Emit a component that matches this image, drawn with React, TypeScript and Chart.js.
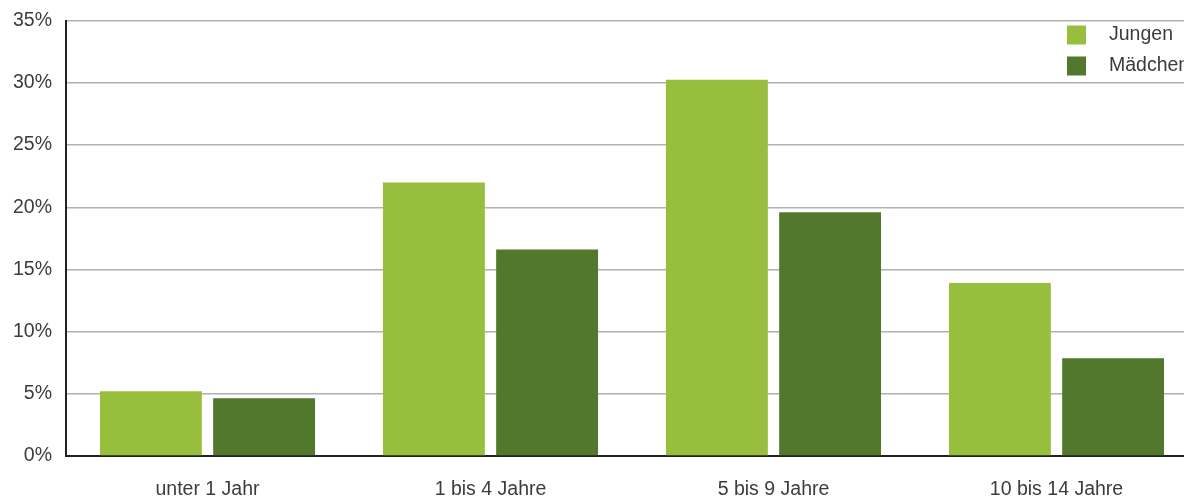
import React, { useEffect, useRef } from "react";
import { Chart, registerables } from "chart.js";

Chart.register(...registerables);

const categories = ["unter 1 Jahr", "1 bis 4 Jahre", "5 bis 9 Jahre", "10 bis 14 Jahre"];
const jungen = [5.2, 22.0, 30.25, 13.9];
const maedchen = [4.65, 16.6, 19.6, 7.85];
const seriesLabels = ["Jungen", "Mädchen"];
const yMax = 35;
const yStep = 5;

const FONT = "'Liberation Sans', Arial, sans-serif";
const FSIZE = 19.5;
const TEXT = "#3c3c3c";
const SHIFT = 13;

const legendPlugin = {
  id: "customLegend",
  afterDraw(chart: any) {
    const ctx = chart.ctx;
    const ds = chart.data.datasets;
    ctx.save();
    ds.forEach((d: any, i: number) => {
      const cy = SHIFT + 27 + i * 31;
      ctx.fillStyle = d.backgroundColor;
      ctx.fillRect(1059, cy - 9.5, 19, 19);
      ctx.fillStyle = TEXT;
      ctx.font = `${FSIZE}px ${FONT}`;
      ctx.textBaseline = "middle";
      ctx.textAlign = "left";
      ctx.fillText(d.label, 1101, cy);
    });
    ctx.restore();
  },
};

export default function App() {
  const ref = useRef<HTMLCanvasElement | null>(null);
  useEffect(() => {
    document.documentElement.style.overflow = "hidden";
    document.body.style.margin = "8px 0 0 8px";
    if (!ref.current) return;
    const chart = new Chart(ref.current, {
      type: "bar",
      data: {
        labels: categories,
        datasets: [
          { label: seriesLabels[0], data: jungen, backgroundColor: "#97bf3d" },
          { label: seriesLabels[1], data: maedchen, backgroundColor: "#52782e" },
        ],
      },
      options: {
        responsive: false,
        animation: false,
        layout: { padding: { top: 0, right: 0, left: 0, bottom: 0 } },
        plugins: { legend: { display: false }, tooltip: { enabled: false } },
        datasets: { bar: { categoryPercentage: 0.8, barPercentage: 0.9 } },
        scales: {
          x: {
            grid: { display: false, drawTicks: false },
            border: { display: true, color: "#222", width: 2 },
            ticks: { color: TEXT, font: { family: FONT, size: FSIZE }, padding: 22, maxRotation: 0 },
            afterFit(scale: any) { scale.height = 41; },
          },
          y: {
            min: 0,
            max: yMax,
            grid: { color: "#b0b0b0", lineWidth: 1.5, drawTicks: false },
            border: { display: true, color: "#222", width: 2 },
            ticks: {
              stepSize: yStep,
              color: TEXT,
              font: { family: FONT, size: FSIZE },
              padding: 14,
              callback: (v: any) => `${v}%`,
            },
            afterFit(scale: any) { scale.width = 58; },
          },
        },
      },
      plugins: [legendPlugin],
    });
    return () => chart.destroy();
  }, []);
  return (
    <div style={{ width: 1176, height: 489, overflow: "hidden" }}>
      <canvas ref={ref} width={1190} height={502} style={{ display: "block", marginTop: -SHIFT }} />
    </div>
  );
}
